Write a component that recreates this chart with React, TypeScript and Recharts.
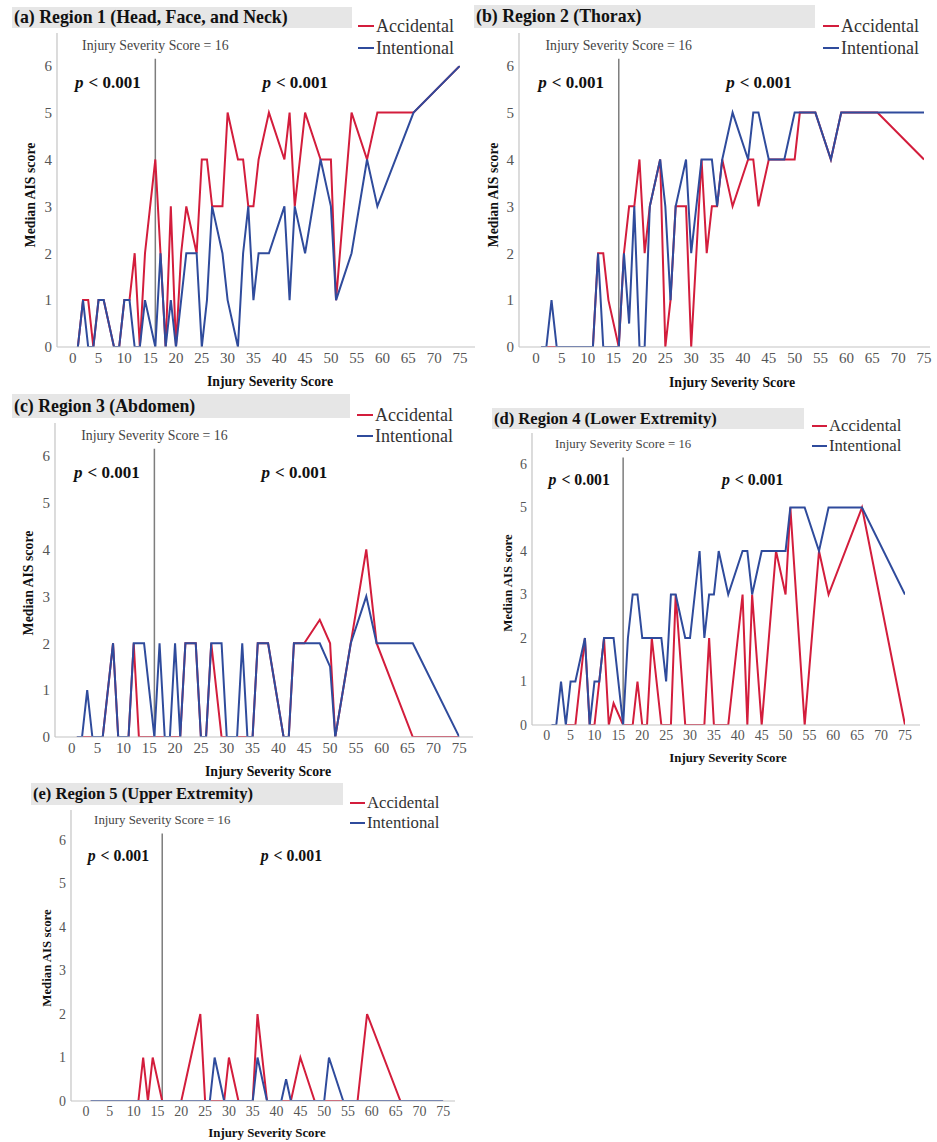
import React from 'react';
import { LineChart, Line, XAxis, YAxis, ReferenceLine, ReferenceDot } from 'recharts';

// ---------------- DATA ----------------
const ISS_VALUES = [
  1, 2, 3, 4, 5, 6,
  8, 9, 10, 11, 12, 13, 14,
  16, 17, 18, 19, 20, 21, 22,
  24, 25, 26, 27, 29, 30,
  32, 33, 34, 35, 36, 38,
  41, 42, 43, 45, 48,
  50, 51, 54, 57, 59,
  66, 75,
];
const X_TICKS = [0, 5, 10, 15, 20, 25, 30, 35, 40, 45, 50, 55, 60, 65, 70, 75];
const Y_TICKS = [0, 1, 2, 3, 4, 5, 6];
const ISS_CUTOFF = 16;
const CUTOFF_LABEL = 'Injury Severity Score = 16';
const P_TEXT = '< 0.001';
const P_LABEL_X = [6.8, 43.1];
const P_LABEL_Y = 5.65;
const CUTOFF_TOP = 6.15;
const SERIES_NAMES = ['Accidental', 'Intentional'];

const region1Accidental = [
  0, 1, 1, 0, 1, 1,
  0, 0, 1, 1, 2, 0, 2,
  4, 2, 0, 3, 0, 2, 3,
  2, 4, 4, 3, 3, 5,
  4, 4, 3, 3, 4, 5,
  4, 5, 3, 5, 4,
  4, 1, 5, 4, 5,
  5, 6,
];
const region1Intentional = [
  0, 1, 0, 0, 1, 1,
  0, 0, 1, 1, 0, 0, 1,
  0, 2, 0, 1, 0, 1, 2,
  2, 0, 1, 3, 2, 1,
  0, 2, 3, 1, 2, 2,
  3, 1, 3, 2, 4,
  3, 1, 2, 4, 3,
  5, 6,
];
const region2Accidental = [
  0, 0, 0, 0, 0, 0,
  0, 0, 0, 0, 2, 2, 1,
  0, 2, 3, 3, 4, 2, 3,
  4, 0, 1, 3, 3, 0,
  4, 2, 3, 3, 4, 3,
  4, 4, 3, 4, 4,
  4, 5, 5, 4, 5,
  5, 4,
];
const region2Intentional = [
  0, 0, 1, 0, 0, 0,
  0, 0, 0, 0, 2, 0, 0,
  0, 2, 0.5, 3, 0, 0, 3,
  4, 3, 1, 3, 4, 2,
  4, 4, 4, 3, 4, 5,
  4, 5, 5, 4, 4,
  5, 5, 5, 4, 5,
  5, 5,
];
const region3Accidental = [
  0, 0, 0, 0, 0, 0,
  2, 0, 0, 0, 2, 0, 0,
  0, 0, 0, 0, 0, 0, 2,
  2, 0, 0, 2, 0, 0,
  0, 0, 0, 0, 2, 2,
  0, 0, 2, 2, 2.5,
  2, 0, 2, 4, 2,
  0, 0,
];
const region3Intentional = [
  0, 0, 1, 0, 0, 0,
  2, 0, 0, 0, 2, 2, 2,
  0, 2, 0, 0, 2, 0, 2,
  2, 0, 0, 2, 2, 0,
  0, 2, 0, 0, 2, 2,
  0, 0, 2, 2, 2,
  1.5, 0, 2, 3, 2,
  2, 0,
];
const region4Accidental = [
  null, null, null, 0, 0, 0,
  2, 0, 0, 1, 2, 0, 0.5,
  0, 0, 0, 1, 0, 0, 2,
  0, 0, 0, 3, 0, 0,
  0, 0, 2, 0, 0, 0,
  3, 0, 3, 0, 4,
  3, 5, 0, 4, 3,
  5, 0,
];
const region4Intentional = [
  0, 0, 1, 0, 1, 1,
  2, 0, 1, 1, 2, 2, 2,
  0, 2, 3, 3, 2, 2, 2,
  2, 1, 3, 3, 2, 2,
  4, 2, 3, 3, 4, 3,
  4, 4, 3, 4, 4,
  4, 5, 5, 4, 5,
  5, 3,
];
const region5Accidental = [
  0, 0, 0, 0, 0, 0,
  0, 0, 0, 0, 1, 0, 1,
  0, 0, 0, 0, 0, 0.5, 1,
  2, 0, 0, 0, 0, 1,
  0, 0, 0, 0, 2, 0,
  0, 0, 0, 1, 0,
  0, 0, 0, 0, 2,
  0, 0,
];
const region5Intentional = [
  0, 0, 0, 0, 0, 0,
  0, 0, 0, 0, 0, 0, 0,
  0, 0, 0, 0, 0, 0, 0,
  0, 0, 0, 1, 0, 0,
  0, 0, 0, 0, 1, 0,
  0, 0.5, 0, 0, 0,
  0, 1, 0, 0, 0,
  0, 0,
];

// ---------------- STYLE / LAYOUT ----------------
const FONT = '"Liberation Serif", "Times New Roman", Times, serif';
const RED = '#d31d3c';
const BLUE = '#2f4b9c';
const AXIS_COLOR = '#c4c4c4';
const TICK_COLOR = '#555';
const Y_AXIS_W = 52;
const X_AXIS_H = 44;
const TOP_M = 2;
const RIGHT_M = 4;

type Geo = {
  title: string;
  acc: (number | null)[];
  int: (number | null)[];
  axisLeft: number; axisRight: number; axisTop: number; axisBottom: number;
  x0: number; x75: number; y6: number;
  box: { left: number; top: number; width: number; height: number };
  legend: { left: number; y1: number; y2: number };
  yTitle: { x: number; y: number };
  xTitle: { x: number; y: number };
  s: number;
};

const PANELS: Geo[] = [
  {
    title: '(a) Region 1 (Head, Face, and Neck)', acc: region1Accidental, int: region1Intentional,
    axisLeft: 57, axisRight: 475, axisTop: 33, axisBottom: 347, x0: 72.7, x75: 460, y6: 65.7,
    box: { left: 12, top: 7, width: 340, height: 21 }, legend: { left: 358, y1: 26, y2: 48 },
    yTitle: { x: 30, y: 195 }, xTitle: { x: 270, y: 381 }, s: 1,
  },
  {
    title: '(b) Region 2 (Thorax)', acc: region2Accidental, int: region2Intentional,
    axisLeft: 519, axisRight: 930, axisTop: 33, axisBottom: 347, x0: 536, x75: 924, y6: 65.7,
    box: { left: 474, top: 5, width: 341, height: 23 }, legend: { left: 823, y1: 26, y2: 48 },
    yTitle: { x: 493, y: 195 }, xTitle: { x: 732, y: 382 }, s: 1,
  },
  {
    title: '(c) Region 3 (Abdomen)', acc: region3Accidental, int: region3Intentional,
    axisLeft: 55, axisRight: 473, axisTop: 423, axisBottom: 737, x0: 71.7, x75: 459.3, y6: 455.7,
    box: { left: 12, top: 394, width: 338, height: 24 }, legend: { left: 357, y1: 415, y2: 436 },
    yTitle: { x: 28, y: 583 }, xTitle: { x: 268, y: 771 }, s: 1,
  },
  {
    title: '(d) Region 4 (Lower Extremity)', acc: region4Accidental, int: region4Intentional,
    axisLeft: 532, axisRight: 920, axisTop: 433, axisBottom: 725, x0: 546.7, x75: 905, y6: 464,
    box: { left: 492, top: 408, width: 312, height: 21 }, legend: { left: 812, y1: 426, y2: 446 },
    yTitle: { x: 508, y: 583 }, xTitle: { x: 728, y: 758 }, s: 0.93,
  },
  {
    title: '(e) Region 5 (Upper Extremity)', acc: region5Accidental, int: region5Intentional,
    axisLeft: 71, axisRight: 455, axisTop: 810, axisBottom: 1101, x0: 86, x75: 443.3, y6: 840,
    box: { left: 31, top: 783, width: 312, height: 22 }, legend: { left: 350, y1: 803, y2: 823 },
    yTitle: { x: 47, y: 958 }, xTitle: { x: 267, y: 1133 }, s: 0.93,
  },
];

function PLabel({ cx, cy, fs }: { cx: number; cy: number; fs: number }) {
  return (
    <text x={cx} y={cy} textAnchor="middle" dominantBaseline="central" fontFamily={FONT}
      fontWeight="bold" fontSize={fs} fill="#111">
      <tspan fontStyle="italic">p</tspan>
      <tspan dx={5}>{P_TEXT}</tspan>
    </text>
  );
}

function LegendRow({ left, y, color, label, s }: { left: number; y: number; color: string; label: string; s: number }) {
  return (
    <div style={{ position: 'absolute', left, top: y - 11, height: 22, display: 'flex', alignItems: 'center', whiteSpace: 'nowrap' }}>
      <div style={{ width: 16 * s, height: 2.5, background: color, marginRight: 2 }} />
      <span style={{ fontFamily: FONT, fontSize: 18 * s, color: '#333', lineHeight: '22px' }}>{label}</span>
    </div>
  );
}

function Panel({ g }: { g: Geo }) {
  const s = g.s;
  const chartLeft = g.axisLeft - Y_AXIS_W;
  const chartTop = g.axisTop - TOP_M;
  const width = g.axisRight - chartLeft + RIGHT_M;
  const height = g.axisBottom - g.axisTop + TOP_M + X_AXIS_H;
  const rows = ISS_VALUES.map((iss, i) => ({ iss, accidental: g.acc[i], intentional: g.int[i] }));
  return (
    <>
      <div style={{
        position: 'absolute', left: g.box.left, top: g.box.top, width: g.box.width, height: g.box.height,
        background: '#e6e6e6', fontFamily: FONT, fontWeight: 'bold', fontSize: 17.8 * s, lineHeight: `${g.box.height}px`,
        color: '#111', paddingLeft: 2, boxSizing: 'border-box', whiteSpace: 'nowrap',
      }}>{g.title}</div>
      <div style={{ position: 'absolute', left: chartLeft, top: chartTop }}>
        <LineChart width={width} height={height} data={rows} margin={{ top: TOP_M, right: RIGHT_M, bottom: 0, left: 0 }}>
          <XAxis type="number" dataKey="iss" domain={[0, 75]} ticks={X_TICKS} interval={0} allowDataOverflow
            padding={{ left: g.x0 - g.axisLeft, right: g.axisRight - g.x75 }} height={X_AXIS_H}
            tickLine={false} tickSize={0} tickMargin={5} axisLine={{ stroke: AXIS_COLOR, strokeWidth: 1.2 }}
            tick={{ fill: TICK_COLOR, fontSize: 15 * s, fontFamily: FONT }}
            label={{
              content: () => (
                <text x={g.xTitle.x - chartLeft} y={g.xTitle.y - chartTop} textAnchor="middle" dominantBaseline="central"
                  fontFamily={FONT} fontWeight="bold" fontSize={13.8 * s} fill="#111">Injury Severity Score</text>
              ),
            }} />
          <YAxis type="number" domain={[0, 6]} ticks={Y_TICKS} interval={0} allowDataOverflow
            padding={{ top: g.y6 - g.axisTop, bottom: 0 }} width={Y_AXIS_W}
            tickLine={false} tickSize={0} tickMargin={5} axisLine={{ stroke: AXIS_COLOR, strokeWidth: 1.2 }}
            tick={{ fill: TICK_COLOR, fontSize: 15 * s, fontFamily: FONT }}
            label={{
              content: () => (
                <text transform={`translate(${g.yTitle.x - chartLeft},${g.yTitle.y - chartTop}) rotate(-90)`}
                  textAnchor="middle" dominantBaseline="central" fontFamily={FONT} fontWeight="bold"
                  fontSize={13.8 * s} fill="#111">Median AIS score</text>
              ),
            }} />
          <ReferenceLine segment={[{ x: ISS_CUTOFF, y: 0 }, { x: ISS_CUTOFF, y: CUTOFF_TOP }]} stroke="#7d7d7d"
            strokeWidth={1.5} ifOverflow="visible"
            label={{ value: CUTOFF_LABEL, position: 'top', offset: 9, fill: '#444', fontSize: 13.8 * s, fontFamily: FONT }} />
          {P_LABEL_X.map((px) => (
            <ReferenceDot key={px} x={px} y={P_LABEL_Y} r={0} ifOverflow="visible"
              shape={(p: any) => <PLabel cx={p.cx} cy={p.cy} fs={17 * s} />} />
          ))}
          <Line type="linear" dataKey="accidental" name={SERIES_NAMES[0]} stroke={RED} strokeWidth={2}
            dot={false} activeDot={false} isAnimationActive={false} />
          <Line type="linear" dataKey="intentional" name={SERIES_NAMES[1]} stroke={BLUE} strokeWidth={2}
            dot={false} activeDot={false} isAnimationActive={false} />
        </LineChart>
      </div>
      <LegendRow left={g.legend.left} y={g.legend.y1} color={RED} label={SERIES_NAMES[0]} s={s} />
      <LegendRow left={g.legend.left} y={g.legend.y2} color={BLUE} label={SERIES_NAMES[1]} s={s} />
    </>
  );
}

export default function App() {
  return (
    <div style={{ position: 'absolute', left: 0, top: 0, width: 937, height: 1142, overflow: 'hidden', background: '#fff' }}>
      {PANELS.map((g) => <Panel key={g.title} g={g} />)}
    </div>
  );
}
